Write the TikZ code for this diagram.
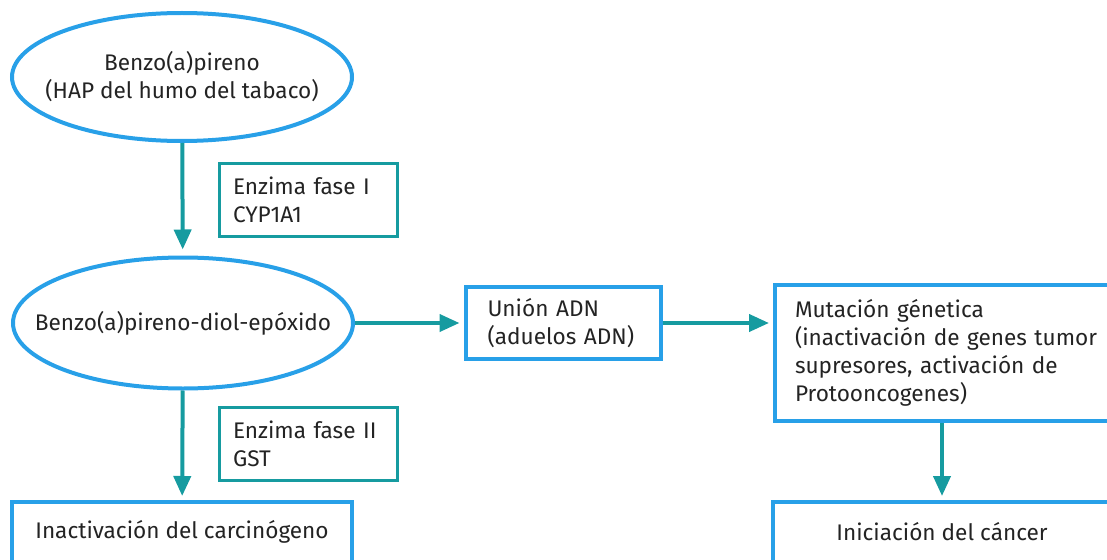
\documentclass[tikz,border=0pt]{standalone}
\usepackage{fontspec}
\setmainfont{Fira Sans}
\usetikzlibrary{arrows.meta,shapes.geometric}
\definecolor{hapblue}{RGB}{40,160,232}
\definecolor{hapteal}{RGB}{22,155,160}
\definecolor{haptext}{RGB}{35,35,35}

\begin{document}
\begin{tikzpicture}[x=1pt,y=-1pt,text=haptext,
  font=\fontsize{22.6}{28}\selectfont,
  oval/.style={draw=hapblue,line width=4pt,ellipse,inner sep=-60pt,
    minimum width=340pt,minimum height=128pt,align=center},
  bluebox/.style={draw=hapblue,line width=4pt,rectangle,inner ysep=0pt},
  enzbox/.style={draw=hapteal,line width=3pt,rectangle,minimum width=178pt,
    minimum height=73pt,text width=150pt,inner xsep=14pt,inner ysep=0pt,align=left},
  flow/.style={draw=hapteal,line width=4pt,-{Triangle[width=17pt,length=20pt]}}]
 \useasboundingbox (0,0) rectangle (1107,559);
 \clip (0,0) rectangle (1107,559);

 % left column
 \node[oval] (bap) at (182,77) {Benzo(a)pireno\\(HAP del humo del tabaco)};
 \node[enzbox] (fase1) at (308,200) {Enzima fase I\\CYP1A1};
 \node[oval,minimum height=131pt] (diol) at (183,323) {Benzo(a)pireno-diol-epóxido};
 \node[enzbox] (fase2) at (308,444) {Enzima fase II\\GST};
 \node[bluebox,minimum width=340pt,minimum height=60pt] (inact) at (182,532)
   {Inactivación del carcinógeno};

 % right part
 \node[bluebox,minimum width=195pt,minimum height=72pt,text width=151pt,
   inner xsep=22pt,align=left] (union) at (563,323) {Unión ADN\\(aduelos ADN)};
 \node[bluebox,anchor=west,minimum height=136pt,text width=320pt,
   inner xsep=20pt,align=left] (mut) at (773,353)
   {Mutación génetica\\(inactivación de genes tumor\\supresores, activación de\\Protooncogenes)};
 \node[bluebox,minimum width=339pt,minimum height=60pt] (inic) at (942,532)
   {Iniciación del cáncer};

 \draw[flow,shorten >=6pt] (bap) -- (diol);
 \draw[flow,shorten >=4pt] (diol) -- (inact);
 \draw[flow,shorten >=4pt] (diol) -- (union);
 \draw[flow,shorten >=4pt] (union.east) -- (union.east -| mut.west);
 \draw[flow,shorten >=4pt] (inic.north |- mut.south) -- (inic);
\end{tikzpicture}
\end{document}
